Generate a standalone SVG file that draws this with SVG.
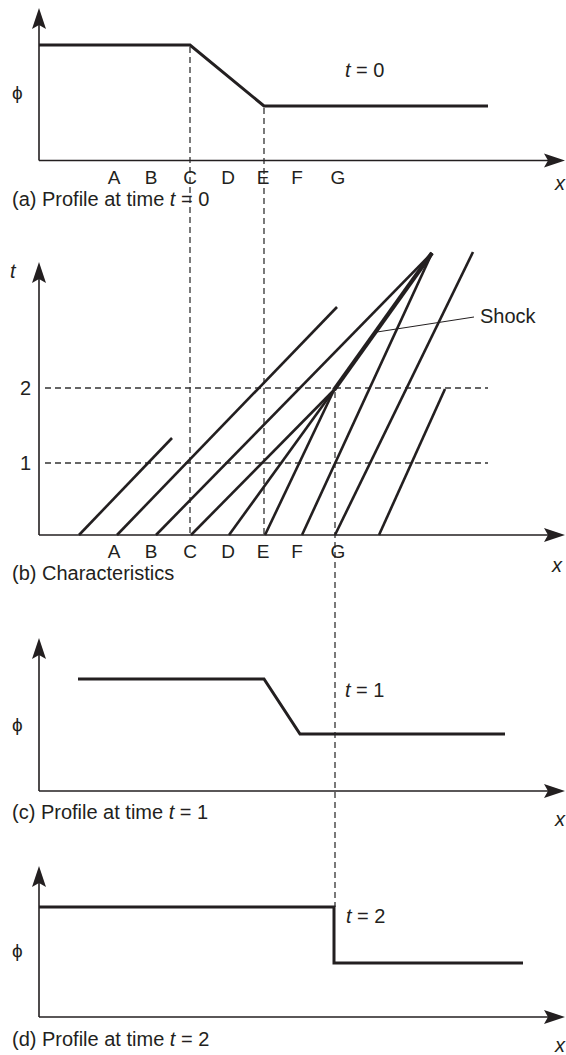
<svg xmlns="http://www.w3.org/2000/svg" xmlns:xlink="http://www.w3.org/1999/xlink" width="566" height="1055" viewBox="0 0 566 1055">
<style>
.ax{stroke:#231f20;stroke-width:1.6;fill:none}
.pr{stroke:#231f20;stroke-width:3;fill:none;stroke-linejoin:miter}
.ch{stroke:#231f20;stroke-width:2.6;fill:none}
.sh{stroke:#231f20;stroke-width:4.2;fill:none}
.dl{stroke:#333;stroke-width:1.3;fill:none;stroke-dasharray:6 4}
.ld{stroke:#231f20;stroke-width:1;fill:none}
.ah{fill:#231f20}
text{font-family:"Liberation Sans",Arial,sans-serif;fill:#231f20;font-size:20px}
.lt{font-size:19px;text-anchor:middle}
.it{font-style:italic}
.ph{font-size:19px;font-family:"Liberation Sans","DejaVu Sans",sans-serif}
</style>
<defs>
<path id="up" d="M0,0 L7,21 L0,17 L-7,21 Z"/>
<path id="rt" d="M0,0 L-21,-7 L-17,0 L-21,7 Z"/>
</defs>
<g id="guides">
<line class="dl" x1="190" y1="47" x2="190" y2="535"/>
<line class="dl" x1="264" y1="108" x2="264" y2="535"/>
<line class="dl" x1="335" y1="392" x2="335" y2="907"/>
<line class="dl" x1="45" y1="388" x2="488" y2="388"/>
<line class="dl" x1="45" y1="463" x2="488" y2="463"/>
</g>
<g id="panel-a">
<line class="ax" x1="39" y1="24" x2="39" y2="160.5"/>
<line class="ax" x1="39" y1="160.5" x2="549" y2="160.5"/>
<use href="#up" class="ah" x="39" y="8"/>
<use href="#rt" class="ah" x="565" y="160.5"/>
<polyline class="pr" points="39,45 190,45 264,106 488,106"/>
<text class="ph" x="12" y="99">ϕ</text>
<text x="345" y="77"><tspan class="it">t</tspan> = 0</text>
<text class="lt" x="114" y="184">A</text>
<text class="lt" x="151" y="184">B</text>
<text class="lt" x="190" y="184">C</text>
<text class="lt" x="228" y="184">D</text>
<text class="lt" x="263" y="184">E</text>
<text class="lt" x="297" y="184">F</text>
<text class="lt" x="338" y="184">G</text>
<text class="it" x="555" y="190">x</text>
<text x="12" y="206">(a) Profile at time <tspan class="it">t</tspan> = 0</text>
</g>
<g id="panel-b">
<line class="ax" x1="39" y1="278" x2="39" y2="535"/>
<line class="ax" x1="39" y1="535" x2="549" y2="535"/>
<use href="#up" class="ah" x="39" y="262"/>
<use href="#rt" class="ah" x="565" y="535"/>
<text class="it" x="10" y="278">t</text>
<text x="20" y="395">2</text>
<text x="20" y="470">1</text>
<line class="ch" x1="79" y1="535" x2="172" y2="438"/>
<line class="ch" x1="117" y1="535" x2="337" y2="307"/>
<line class="ch" x1="156" y1="535" x2="432" y2="253"/>
<line class="ch" x1="191" y1="535" x2="334" y2="390"/>
<line class="ch" x1="229" y1="535" x2="334" y2="390"/>
<line class="ch" x1="265" y1="535" x2="334" y2="390"/>
<line class="sh" x1="334" y1="390" x2="432" y2="253"/>
<line class="ch" x1="302" y1="535" x2="432" y2="253"/>
<line class="ch" x1="335" y1="535" x2="473" y2="252"/>
<line class="ch" x1="379" y1="535" x2="445" y2="389"/>
<line class="ld" x1="377" y1="332" x2="474" y2="317"/>
<text x="480" y="323">Shock</text>
<text class="lt" x="114" y="558">A</text>
<text class="lt" x="151" y="558">B</text>
<text class="lt" x="190" y="558">C</text>
<text class="lt" x="228" y="558">D</text>
<text class="lt" x="263" y="558">E</text>
<text class="lt" x="297" y="558">F</text>
<text class="lt" x="338" y="558">G</text>
<text class="it" x="552" y="572">x</text>
<text x="12" y="580">(b) Characteristics</text>
</g>
<g id="panel-c">
<line class="ax" x1="39" y1="654" x2="39" y2="791"/>
<line class="ax" x1="39" y1="791" x2="549" y2="791"/>
<use href="#up" class="ah" x="39" y="638"/>
<use href="#rt" class="ah" x="565" y="791"/>
<polyline class="pr" points="78,679 264,679 300,734 505,734"/>
<text class="ph" x="12" y="731">ϕ</text>
<text x="345" y="697"><tspan class="it">t</tspan> = 1</text>
<text class="it" x="555" y="826">x</text>
<text x="12" y="819">(c) Profile at time <tspan class="it">t</tspan> = 1</text>
</g>
<g id="panel-d">
<line class="ax" x1="39" y1="882" x2="39" y2="1017"/>
<line class="ax" x1="39" y1="1017" x2="549" y2="1017"/>
<use href="#up" class="ah" x="39" y="866"/>
<use href="#rt" class="ah" x="565" y="1017"/>
<polyline class="pr" points="39,907 334,907 334,963 523,963"/>
<text class="ph" x="12" y="957">ϕ</text>
<text x="346" y="923"><tspan class="it">t</tspan> = 2</text>
<text class="it" x="555" y="1052">x</text>
<text x="12" y="1046">(d) Profile at time <tspan class="it">t</tspan> = 2</text>
</g>
</svg>
